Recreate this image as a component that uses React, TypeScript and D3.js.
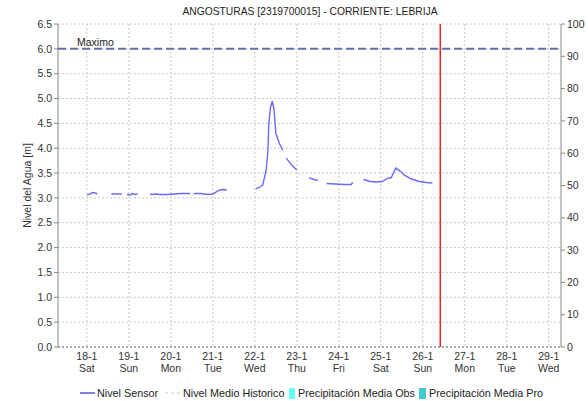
import React from 'react';
import * as d3 from 'd3';

const title = 'ANGOSTURAS [2319700015] - CORRIENTE: LEBRIJA';

// Nivel sensor: timestamps and levels (null = gap in the record)
const nivelTimes = [
    '2020-01-18 00:00', '2020-01-18 02:00', '2020-01-18 03:00', '2020-01-18 05:00', '2020-01-18 06:00', '2020-01-18 08:00',
    '2020-01-18 14:00', '2020-01-18 17:00', '2020-01-18 20:00', '2020-01-18 21:30',
    '2020-01-18 23:00', '2020-01-19 01:00', '2020-01-19 02:00', '2020-01-19 03:00', '2020-01-19 05:00', '2020-01-19 08:00',
    '2020-01-19 12:00', '2020-01-19 13:00', '2020-01-19 15:00', '2020-01-19 18:00', '2020-01-19 22:00', '2020-01-20 02:00', '2020-01-20 06:00', '2020-01-20 11:00', '2020-01-20 12:00',
    '2020-01-20 13:00', '2020-01-20 17:00', '2020-01-20 21:00', '2020-01-21 00:00', '2020-01-21 02:00', '2020-01-21 04:00', '2020-01-21 06:00', '2020-01-21 08:00', '2020-01-21 12:00',
    '2020-01-22 00:30', '2020-01-22 02:30', '2020-01-22 04:30', '2020-01-22 06:30', '2020-01-22 07:30', '2020-01-22 08:00', '2020-01-22 09:00', '2020-01-22 10:00', '2020-01-22 11:00', '2020-01-22 12:00', '2020-01-22 14:00', '2020-01-22 16:00', '2020-01-22 17:00',
    '2020-01-22 18:00', '2020-01-22 21:00', '2020-01-23 00:00', '2020-01-23 03:00',
    '2020-01-23 07:00', '2020-01-23 09:00', '2020-01-23 12:00', '2020-01-23 14:00',
    '2020-01-23 17:00', '2020-01-23 22:00', '2020-01-24 03:00', '2020-01-24 07:00', '2020-01-24 08:00', '2020-01-24 11:00',
    '2020-01-24 14:00', '2020-01-24 18:00', '2020-01-24 21:00', '2020-01-25 01:00', '2020-01-25 03:30', '2020-01-25 06:00', '2020-01-25 08:30', '2020-01-25 11:00', '2020-01-25 13:30', '2020-01-25 17:30', '2020-01-25 22:00', '2020-01-26 02:00', '2020-01-26 05:30',
];
const nivelValues: (number | null)[] = [
    3.06, 3.08, 3.11, 3.10, 3.08, null,
    3.08, 3.08, 3.08, null,
    3.07, 3.06, 3.09, 3.07, 3.08, null,
    3.08, 3.07, 3.08, 3.07, 3.07, 3.08, 3.09, 3.09, null,
    3.09, 3.09, 3.07, 3.08, 3.12, 3.16, 3.17, 3.16, null,
    3.18, 3.21, 3.26, 3.56, 3.96, 4.5, 4.83, 4.95, 4.77, 4.3, 4.1, 3.96, null,
    3.80, 3.66, 3.56, null,
    3.41, 3.38, 3.35, null,
    3.29, 3.28, 3.27, 3.27, 3.31, null,
    3.37, 3.33, 3.32, 3.33, 3.39, 3.41, 3.60, 3.54, 3.46, 3.38, 3.33, 3.31, 3.30,
];

const maximo = 6.0;
const ahora = '2020-01-26 10:00';
const domainTimes = ['2020-01-17 07:30', '2020-01-29 07:00'];
const leftTicks = [0, 0.5, 1, 1.5, 2, 2.5, 3, 3.5, 4, 4.5, 5, 5.5, 6, 6.5];
const rightTicks = [0, 10, 20, 30, 40, 50, 60, 70, 80, 90, 100];
const dayLabels = ['Sat', 'Sun', 'Mon', 'Tue', 'Wed', 'Thu', 'Fri', 'Sat', 'Sun', 'Mon', 'Tue', 'Wed'];
const legendItems = ['Nivel Sensor', 'Nivel Medio Historico', 'Precipitación Media Obs', 'Precipitación Media Pro'];

const parse = d3.timeParse('%Y-%m-%d %H:%M');

const W = 588;
const H = 401;
const margin = { top: 24, right: 27, bottom: 54, left: 58 };
const font = '"Liberation Sans", Arial, sans-serif';

const App = () => {
    const x = d3.scaleTime()
        .domain(domainTimes.map(d => parse(d) as Date))
        .range([margin.left, W - margin.right]);
    const y = d3.scaleLinear().domain([0, 6.5]).range([H - margin.bottom, margin.top]);
    const yR = d3.scaleLinear().domain([0, 100]).range([H - margin.bottom, margin.top]);

    const days = d3.timeDay.range(parse('2020-01-18 00:00') as Date, parse('2020-01-30 00:00') as Date);
    const data = nivelTimes.map((t, i) => ({ t: parse(t) as Date, v: nivelValues[i] }));
    const line = d3.line<{ t: Date; v: number | null }>()
        .defined(d => d.v != null)
        .x(d => x(d.t))
        .y(d => y(d.v as number));

    const x0 = margin.left;
    const x1 = W - margin.right;
    const y0 = H - margin.bottom;
    const y1 = margin.top;
    const fmt = d3.timeFormat('%-d-%-m');

    return (
        <svg width={W} height={H} style={{ position: 'absolute', left: 0, top: 0, background: '#fff' }} fontFamily={font}>
            <text x={310} y={15} textAnchor="middle" fontSize={10.3} fill="#222">{title}</text>

            {/* grid */}
            {leftTicks.map(t => (
                <line key={'h' + t} x1={x0} x2={x1} y1={y(t)} y2={y(t)} stroke={t === 0 ? '#555' : '#c8c8c8'} strokeDasharray="2,2" />
            ))}
            {days.map(d => (
                <line key={'v' + d.getTime()} x1={x(d)} x2={x(d)} y1={y1} y2={y0} stroke="#c8c8c8" strokeDasharray="2,2" />
            ))}

            {/* axes */}
            <line x1={x0} x2={x0} y1={y1} y2={y0} stroke="#888" />
            <line x1={x1} x2={x1} y1={y1} y2={y0} stroke="#888" />
            {leftTicks.map(t => (
                <g key={'lt' + t}>
                    <line x1={x0 - 4} x2={x0} y1={y(t)} y2={y(t)} stroke="#888" />
                    <text x={x0 - 6} y={y(t)} dy="0.35em" textAnchor="end" fontSize={10.5} fill="#333">{t.toFixed(1)}</text>
                </g>
            ))}
            {rightTicks.map(t => (
                <g key={'rt' + t}>
                    <line x1={x1} x2={x1 + 4} y1={yR(t)} y2={yR(t)} stroke="#888" />
                    <text x={x1 + 6} y={yR(t)} dy="0.35em" fontSize={10.5} fill="#333">{t}</text>
                </g>
            ))}
            {days.map((d, i) => (
                <g key={'xl' + i}>
                    <text x={x(d)} y={360} textAnchor="middle" fontSize={10.5} fill="#333">{fmt(d)}</text>
                    <text x={x(d)} y={372} textAnchor="middle" fontSize={10.5} fill="#333">{dayLabels[i]}</text>
                </g>
            ))}
            <text transform={`translate(31,${(y0 + y1) / 2}) rotate(-90)`} textAnchor="middle" fontSize={10.5} fill="#333">Nivel del Agua [m]</text>

            {/* maximo */}
            <line x1={x0} x2={x1} y1={y(maximo)} y2={y(maximo)} stroke="#6272a8" strokeWidth={2} strokeDasharray="8,4" />
            <text x={77} y={y(maximo) - 3} fontSize={10.5} fill="#222">Maximo</text>

            {/* nivel */}
            <path d={line(data) || ''} fill="none" stroke="#6a6aff" strokeWidth={1.4} />

            {/* now */}
            <line x1={x(parse(ahora) as Date)} x2={x(parse(ahora) as Date)} y1={y1} y2={y0} stroke="#ff2020" strokeWidth={1.5} />

            {/* legend */}
            <g fontSize={10.8} fill="#222">
                <line x1={80} x2={95} y1={393} y2={393} stroke="#0000cc" />
                <text x={97} y={397}>{legendItems[0]}</text>
                <line x1={165} x2={181} y1={393} y2={393} stroke="#c8c8c8" strokeDasharray="3,3" />
                <text x={183} y={397}>{legendItems[1]}</text>
                <rect x={289} y={388} width={6} height={11} fill="#66ffff" />
                <text x={298} y={397}>{legendItems[2]}</text>
                <rect x={419} y={388} width={7} height={11} fill="#44cccc" />
                <text x={429} y={397}>{legendItems[3]}</text>
            </g>
        </svg>
    );
};

export default App;
